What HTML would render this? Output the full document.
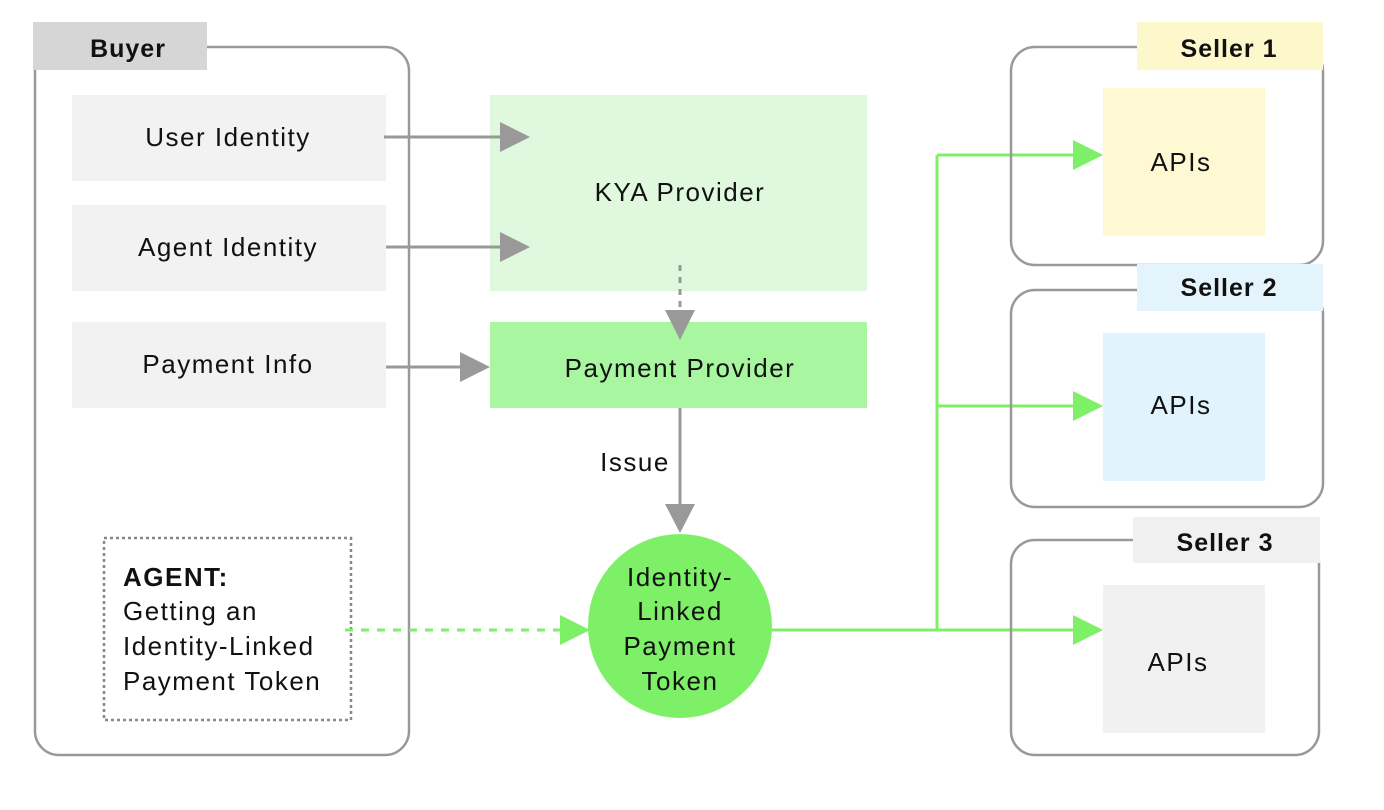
<!DOCTYPE html>
<html><head><style>
body{margin:0;background:#fff;}
svg{display:block;font-family:"Liberation Sans",Arial,sans-serif;}
</style></head><body>
<svg width="1384" height="810" viewBox="0 0 1384 810">
<g font-size="26" letter-spacing="1.5" fill="#111">
<rect x="35" y="47" width="374" height="708" rx="24" fill="none" stroke="#999" stroke-width="2.5"/>
<rect x="33" y="22" width="174" height="48" fill="#d6d6d6"/>
<text x="128" y="57" font-size="25" letter-spacing="1" font-weight="bold" text-anchor="middle">Buyer</text>
<rect x="72" y="95" width="314" height="86" fill="#f2f2f2"/>
<text x="228" y="146" text-anchor="middle">User Identity</text>
<rect x="72" y="205" width="314" height="86" fill="#f2f2f2"/>
<text x="228" y="256" text-anchor="middle">Agent Identity</text>
<rect x="72" y="322" width="314" height="86" fill="#f2f2f2"/>
<text x="228" y="373" text-anchor="middle">Payment Info</text>
<rect x="104" y="538" width="247" height="182" fill="none" stroke="#888" stroke-width="2.5" stroke-dasharray="3,3"/>
<text><tspan x="123" y="586" font-weight="bold">AGENT:</tspan><tspan x="123" y="620">Getting an</tspan><tspan x="123" y="655">Identity-Linked</tspan><tspan x="123" y="690">Payment Token</tspan></text>
<rect x="490" y="95" width="377" height="196" fill="#dff8de"/>
<text x="680" y="201" text-anchor="middle">KYA Provider</text>
<rect x="490" y="322" width="377" height="86" fill="#a8f7a0"/>
<text x="680" y="377" text-anchor="middle">Payment Provider</text>
<g stroke="#999" stroke-width="3" fill="none">
<line x1="384" y1="137" x2="505" y2="137"/>
<line x1="386" y1="247" x2="505" y2="247"/>
<line x1="386" y1="367" x2="465" y2="367"/>
<line x1="680" y1="265" x2="680" y2="312" stroke-dasharray="6,6"/>
<line x1="680" y1="408" x2="680" y2="508"/>
</g>
<g fill="#999">
<polygon points="500,122 530,137 500,152"/>
<polygon points="500,232 530,247 500,262"/>
<polygon points="460,352 490,367 460,382"/>
<polygon points="665,310 695,310 680,340"/>
<polygon points="665,504 695,504 680,533"/>
</g>
<text x="635" y="471" text-anchor="middle">Issue</text>
<circle cx="680" cy="626" r="92" fill="#7ef068"/>
<text text-anchor="middle"><tspan x="680" y="586">Identity-</tspan><tspan x="680" y="620">Linked</tspan><tspan x="680" y="655">Payment</tspan><tspan x="680" y="690">Token</tspan></text>
<g stroke="#7ef068" stroke-width="3" fill="none">
<line x1="345" y1="630" x2="562" y2="630" stroke-dasharray="8,8"/>
<line x1="772" y1="630" x2="1078" y2="630"/>
<line x1="937" y1="155" x2="937" y2="630"/>
<line x1="937" y1="155" x2="1078" y2="155"/>
<line x1="937" y1="406" x2="1078" y2="406"/>
</g>
<g fill="#7ef068">
<polygon points="560,615 590,630 560,645"/>
<polygon points="1073,140 1103,155 1073,170"/>
<polygon points="1073,391 1103,406 1073,421"/>
<polygon points="1073,615 1103,630 1073,645"/>
</g>
<rect x="1011" y="47" width="312" height="218" rx="24" fill="none" stroke="#999" stroke-width="2.5"/>
<rect x="1137" y="22" width="186" height="48" fill="#fdf8cc"/>
<text x="1229" y="57" font-size="25" letter-spacing="1" font-weight="bold" text-anchor="middle">Seller 1</text>
<rect x="1103" y="88" width="162" height="148" fill="#fef9d2"/>
<text x="1181" y="171" text-anchor="middle">APIs</text>
<rect x="1011" y="290" width="312" height="217" rx="24" fill="none" stroke="#999" stroke-width="2.5"/>
<rect x="1137" y="264" width="186" height="47" fill="#e3f4fd"/>
<text x="1229" y="296" font-size="25" letter-spacing="1" font-weight="bold" text-anchor="middle">Seller 2</text>
<rect x="1103" y="333" width="162" height="148" fill="#e1f4fd"/>
<text x="1181" y="414" text-anchor="middle">APIs</text>
<rect x="1011" y="540" width="308" height="215" rx="24" fill="none" stroke="#999" stroke-width="2.5"/>
<rect x="1133" y="517" width="187" height="46" fill="#f0f0f0"/>
<text x="1225" y="551" font-size="25" letter-spacing="1" font-weight="bold" text-anchor="middle">Seller 3</text>
<rect x="1103" y="585" width="162" height="148" fill="#f1f1f1"/>
<text x="1178" y="671" text-anchor="middle">APIs</text>
</g>
</svg>
</body></html>
